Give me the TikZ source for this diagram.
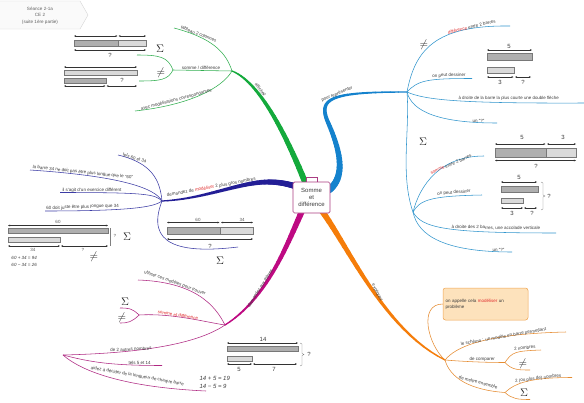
\documentclass[tikz,border=0pt]{standalone}
\usepackage{fontspec}
\setmainfont{Liberation Sans}
\usetikzlibrary{calc,arrows.meta}
\definecolor{cgreen}{RGB}{20,170,60}
\definecolor{cgreenl}{RGB}{50,175,80}
\definecolor{cblue}{RGB}{20,130,205}
\definecolor{cbluel}{RGB}{50,150,205}
\definecolor{cnavy}{RGB}{35,30,150}
\definecolor{cnavyl}{RGB}{60,60,165}
\definecolor{cmag}{RGB}{190,10,130}
\definecolor{cmagl}{RGB}{175,40,130}
\definecolor{corange}{RGB}{245,125,10}
\definecolor{corangel}{RGB}{230,140,50}
\definecolor{txt}{RGB}{60,60,60}
\definecolor{cred}{RGB}{225,45,45}
\definecolor{bdk}{RGB}{175,175,175}
\definecolor{blt}{RGB}{218,218,218}
\definecolor{bbd}{RGB}{120,120,120}
\definecolor{boxfill}{RGB}{253,226,188}
\definecolor{boxdraw}{RGB}{240,165,80}
\definecolor{hdrfill}{RGB}{250,250,250}
\definecolor{hdrdraw}{RGB}{215,215,215}
\definecolor{cbox}{RGB}{170,60,130}
\tikzset{
  lbl/.style={font=\fontsize{4.5}{5.2}\selectfont, text=txt, inner sep=0.3pt},
  subl/.style={line width=0.55pt},
  bdark/.style={draw=bbd, fill=bdk, line width=0.35pt},
  blite/.style={draw=bbd, fill=blt, line width=0.35pt},
  dimarrow/.style={<->, >={Stealth[length=2.2pt,width=1.8pt]}, line width=0.35pt, draw=black!80},
  num/.style={font=\fontsize{6}{6}\selectfont, text=txt, inner sep=0.5pt},
  snum/.style={font=\fontsize{4.5}{5}\selectfont, text=txt!85, inner sep=0.5pt},
  sym/.style={font=\fontsize{11}{11}\selectfont, text=black!85, inner sep=0pt},
  eqn/.style={font=\fontsize{4.5}{5}\selectfont\itshape, text=txt, inner sep=0.3pt, anchor=west},
  brace/.style={draw=black!50, line width=0.3pt},
}
\newcommand\mmtaper[7]{%
  \foreach \k in {0,...,23}{%
    \pgfmathsetmacro\tA{\k/24}%
    \pgfmathsetmacro\tB{(\k+1)/24}%
    \pgfmathsetmacro\bw{#5+(#6-#5)*(\k+0.5)/24}%
    \coordinate (qa1) at ($(#1)!\tA!(#2)$);
    \coordinate (qa2) at ($(#2)!\tA!(#3)$);
    \coordinate (qa3) at ($(#3)!\tA!(#4)$);
    \coordinate (ra1) at ($(qa1)!\tA!(qa2)$);
    \coordinate (ra2) at ($(qa2)!\tA!(qa3)$);
    \coordinate (pa) at ($(ra1)!\tA!(ra2)$);
    \coordinate (qb1) at ($(#1)!\tB!(#2)$);
    \coordinate (qb2) at ($(#2)!\tB!(#3)$);
    \coordinate (qb3) at ($(#3)!\tB!(#4)$);
    \coordinate (rb1) at ($(qb1)!\tB!(qb2)$);
    \coordinate (rb2) at ($(qb2)!\tB!(qb3)$);
    \coordinate (pb) at ($(rb1)!\tB!(rb2)$);
    \draw[draw=#7, line width=\bw pt, line cap=round] (pa) -- (pb);
  }}
\begin{document}
\begin{tikzpicture}[x=1pt,y=-1pt]
\useasboundingbox (0,0) rectangle (584,402);
\fill[white] (0,0) rectangle (584,402);

% header
\draw[draw=hdrdraw, fill=hdrfill, line width=0.4pt] (-1,1) -- (80,1) -- (88,15) -- (80,29) -- (-1,29) -- cycle;
\node[font=\fontsize{4.6}{6.5}\selectfont, text=txt!80, align=center, inner sep=0] (hdr) at (40,15.5) {Séance 2-1a\\CE 2\\(suite 1ère partie)};

% ================= GREEN
\coordinate (g0) at (305,182); \coordinate (gc1) at (280,120); \coordinate (gc2) at (255,80); \coordinate (gj) at (232,71);
\mmtaper{g0}{gc1}{gc2}{gj}{6}{1.2}{cgreen}
\node[lbl, rotate=-52, anchor=south] (gl) at (259,91) {affichez};
\draw[cgreenl, subl] (gj) .. controls (226,52) and (212,38) .. (174,28);
\node[lbl, rotate=-22, anchor=south] (g1) at (198,36) {tableau 2 colonnes};
\coordinate (gf) at (173,70);
\draw[cgreenl, subl] (gj) -- (gf);
\node[lbl, anchor=south] (g2) at (201,70.3) {somme / différence};
\draw[cgreenl, subl] (gf) .. controls (168,57) and (160,55) .. (137,55);
\draw[cgreenl, subl] (gf) .. controls (168,80) and (160,81) .. (139,81);
\node[sym] (gs) at (160,49) {$\Sigma$};
\node[sym] (gn) at (161,73) {$\neq$};
\draw[cgreenl, subl] (gj) .. controls (222,88) and (190,105) .. (135,111);
\node[lbl, rotate=15, anchor=south] (g3) at (177,102.5) {avec modélisations correspondantes};
% green bars
\draw[bdark] (74,40) rectangle (118,46); \draw[blite] (118,40) rectangle (146,46);
\draw[dimarrow] (74,36) -- (117.5,36); \draw[dimarrow] (118.5,36) -- (146,36);
\draw[dimarrow] (74,50) -- (146,50);
\node[num] (gq1) at (110,55) {?};
\draw[dimarrow] (64,67) -- (137,67);
\draw[blite] (64,70) rectangle (137,75);
\draw[bdark] (64,78) rectangle (106,83);
\draw[dimarrow] (64,86) -- (105.5,86); \draw[dimarrow] (106.5,86) -- (137,86);
\node[num] (gq2) at (122,80) {?};

% ================= BLUE
\coordinate (b0) at (329,190); \coordinate (bc1) at (348,175); \coordinate (bc2) at (338,145); \coordinate (bm) at (327,120);
\coordinate (bc3) at (318,97); \coordinate (bc4) at (335,92); \coordinate (bj) at (407,92);
\mmtaper{b0}{bc1}{bc2}{bm}{7}{4}{cblue}
\mmtaper{bm}{bc3}{bc4}{bj}{4}{1.2}{cblue}
\node[lbl, rotate=22, anchor=south] (bl) at (338,96.5) {pour représenter};
\draw[cbluel, subl] (bj) .. controls (415,50) and (435,25) .. (510,26);
\node[lbl, rotate=14, anchor=south west] (b1) at (448,35) {\textcolor{cred}{différence} entre 2 barres};
\node[sym] (bne) at (424,45) {$\neq$};
\draw[cbluel, subl] (bj) .. controls (418,80) and (428,78.5) .. (472,78.5);
\node[lbl, rotate=2, anchor=south west] (b2) at (432,78.7) {on peut dessiner};
\draw[cbluel, subl] (bj) .. controls (425,100) and (460,103.5) .. (584,103);
\node[lbl, font=\fontsize{4.4}{5}\selectfont, anchor=south west] (b3) at (458,101.3) {à droite de la barre la plus courte une double flèche};
\draw[cbluel, subl] (bj) .. controls (412,112) and (440,123) .. (497,123);
\node[lbl, anchor=south west] (b4) at (472,123) {un “?”};
% blue bars 1
\node[num] (b5n) at (509,46) {5};
\draw[dimarrow] (487,50) -- (532,50);
\draw[bdark] (487,53) rectangle (532,60);
\draw[blite] (487,67) rectangle (514,73);
\draw[dimarrow] (487,77) -- (513.5,77); \draw[dimarrow] (515,77) -- (531,77);
\node[num] (b3n) at (500,82.5) {3}; \node[num] (bqn) at (523,82.5) {?};
% second group
\coordinate (bj2) at (413,212);
\draw[cbluel, subl] (bj) .. controls (410,130) and (400,175) .. (bj2);
\node[sym] (bsig) at (423,142) {$\Sigma$};
\draw[cbluel, subl] (bj2) .. controls (420,185) and (440,156) .. (484,156);
\node[lbl, rotate=23, anchor=south west] (b6) at (431,175) {\textcolor{cred}{somme} entre 2 barres};
\draw[cbluel, subl] (bj2) .. controls (420,200) and (430,196) .. (482,195);
\node[lbl, rotate=4, anchor=south west] (b7) at (437,196.5) {on peut dessiner};
\draw[cbluel, subl] (bj2) .. controls (422,228) and (445,233) .. (556,233);
\node[lbl, rotate=-1, anchor=south west] (b8) at (451,229.5) {à droite des 2 barres, une accolade verticale};
\draw[cbluel, subl] (bj2) .. controls (418,236) and (445,252) .. (512,252);
\node[lbl, anchor=south west] (b9) at (492,252) {un “?”};
% blue bars 2
\node[num] (c5) at (522,137) {5}; \node[num] (c3) at (563,137) {3};
\draw[dimarrow] (495,144) -- (545.5,144); \draw[dimarrow] (547,144) -- (576,144);
\draw[bdark] (495,148) rectangle (546,157); \draw[blite] (546,148) rectangle (576,157);
\draw[dimarrow] (495,160.5) -- (576,160.5);
\node[num] (cq) at (536,166) {?};
% blue bars 3
\node[num] (d5) at (519,177) {5};
\draw[dimarrow] (501,182) -- (537,182);
\draw[bdark] (501,186) rectangle (538,192);
\draw[blite] (501,198) rectangle (523,203);
\draw[dimarrow] (501,208) -- (523,208); \draw[dimarrow] (524,208) -- (537,208);
\node[num] (d3) at (512,213) {3}; \node[num] (dq) at (532,213) {?};
\draw[brace] (541,182) -- (543,183) -- (543,195) -- (545,196) -- (543,197) -- (543,209) -- (541,210);
\node[num] (dq2) at (549,196) {?};

% ================= NAVY
\coordinate (n0) at (298,187); \coordinate (nc1) at (288,184); \coordinate (nc2) at (280,182); \coordinate (nm) at (268,182);
\coordinate (nc3) at (240,182); \coordinate (nc4) at (205,199); \coordinate (nj) at (162,201);
\mmtaper{n0}{nc1}{nc2}{nm}{6}{5}{cnavy}
\mmtaper{nm}{nc3}{nc4}{nj}{5}{1.2}{cnavy}
\node[lbl, rotate=10.5, anchor=south west] (nl) at (167,198.3) {demandez de \textcolor{cred}{modéliser} 2 plus gros nombres};
\draw[cnavyl, subl] (nj) .. controls (160,180) and (152,163) .. (118,155);
\node[lbl, rotate=-18, anchor=south] (n1) at (134,160) {tels 60 et 34};
\draw[cnavyl, subl] (nj) .. controls (155,188) and (120,176) .. (30,170);
\node[lbl, rotate=-6, anchor=south west] (n2) at (32,169.8) {la barre 34 ne doit pas être plus longue que le “60”};
\draw[cnavyl, subl] (nj) .. controls (155,194) and (145,192.5) .. (60,192.5);
\node[lbl, anchor=south west] (n3) at (62,192.5) {il s'agit d'un exercice différent};
\draw[cnavyl, subl] (nj) .. controls (155,206) and (140,211) .. (45,211);
\node[lbl, rotate=2, anchor=south west] (n4) at (46,211) {60 doit juste être plus longue que 34};
\draw[cnavyl, subl] (nj) .. controls (145,245) and (180,254) .. (238,247);
\node[sym] (nsig) at (220,261) {$\Sigma$};
% navy bars
\node[snum] (e60) at (198,219.5) {60}; \node[snum] (e34) at (242,219.5) {34};
\draw[dimarrow] (167,222.5) -- (219.5,222.5); \draw[dimarrow] (221,222.5) -- (253,222.5);
\draw[bdark] (167,227) rectangle (220,234); \draw[blite] (220,227) rectangle (253,234);
\draw[dimarrow] (167,239) -- (253,239);
\node[num] (eq) at (210,246) {?};
% left bars
\node[snum] (f60) at (58,222) {60};
\draw[dimarrow] (8,225.5) -- (108,225.5);
\draw[bdark] (8,228.5) rectangle (108,233);
\draw[blite] (8,237) rectangle (60,242);
\draw[dimarrow] (8,246) -- (60,246); \draw[dimarrow] (61,246) -- (108,246);
\node[snum] (f34) at (33,249.8) {34}; \node[snum] (fq) at (83,249.8) {?};
\draw[brace] (110,228) -- (110,246);
\node[snum] (fq2) at (115,236) {?};
\node[sym] (lsig) at (127,237) {$\Sigma$};
\node[sym] (lne) at (94,257) {$\neq$};
\node[eqn] (feq1) at (11,258) {60 + 34 = 94};
\node[eqn] (feq2) at (11,265) {60 − 34 = 26};

% ================= MAGENTA
\coordinate (m0) at (302,211); \coordinate (mc1) at (285,250); \coordinate (mc2) at (265,300); \coordinate (mj) at (225,325);
\mmtaper{m0}{mc1}{mc2}{mj}{6}{1.2}{cmag}
\node[lbl, rotate=58, anchor=south] (ml) at (262,289) {demandez aux élèves};
\draw[cmagl, subl] (mj) .. controls (215,305) and (195,282) .. (138,280);
\node[lbl, rotate=-20, anchor=south] (m1) at (174,285.5) {utiliser ces modèles pour trouver};
\coordinate (mf) at (139,315);
\draw[cmagl, subl] (mj) .. controls (205,322) and (172,313) .. (mf);
\node[lbl, text=cred, rotate=-9, anchor=south west] (m2) at (157,314) {somme et différence};
\draw[cmagl, subl] (mf) .. controls (132,308) and (128,308) .. (120,308);
\draw[cmagl, subl] (mf) .. controls (132,322) and (128,323) .. (120,323);
\node[sym] (msig) at (125,302) {$\Sigma$};
\node[sym] (mne) at (122,318) {$\neq$};
\coordinate (mj2) at (63,355);
\draw[cmagl, subl] (mj) .. controls (200,342) and (150,353) .. (mj2);
\node[lbl, rotate=3, anchor=south west] (m3) at (110,352.5) {de 2 autres nombres};
\draw[cmagl, subl] (mj2) .. controls (90,362) and (110,365.5) .. (162,365.5);
\node[lbl, anchor=south west] (m4) at (128,365.5) {tels 5 et 14};
\draw[cmagl, subl] (mj2) .. controls (80,370) and (120,387) .. (206,391);
\node[lbl, rotate=-10, anchor=south west] (m5) at (90,370.5) {aidez à décider de la longueur de chaque barre};
% magenta bars
\node[num] (h14) at (263,339) {14};
\draw[dimarrow] (227,343) -- (298,343);
\draw[bdark] (227,346) rectangle (298,351.5);
\draw[blite] (227,356) rectangle (252,361);
\draw[dimarrow] (227,364) -- (252,364); \draw[dimarrow] (253,364) -- (297,364);
\node[num] (h5) at (239,369.5) {5}; \node[num] (h7) at (274,369.5) {7};
\draw[brace] (300,343) -- (302,344) -- (302,353.5) -- (304,354.5) -- (302,355.5) -- (302,365) -- (300,366);
\node[num] (hq) at (309,354) {?};
\node[eqn, font=\fontsize{6}{6}\selectfont\itshape] (heq1) at (199,378) {14 + 5 = 19};
\node[eqn, font=\fontsize{6}{6}\selectfont\itshape] (heq2) at (199,386) {14 − 5 = 9};

% ================= ORANGE
\coordinate (o0) at (322,211); \coordinate (oc1) at (350,250); \coordinate (oc2) at (385,330); \coordinate (oj) at (445,360);
\mmtaper{o0}{oc1}{oc2}{oj}{6}{1.2}{corange}
\node[lbl, rotate=-62, anchor=south] (ol) at (375,294) {expliquez};
\node[draw=boxdraw, fill=boxfill, rounded corners=2.5pt, line width=0.5pt, minimum width=85pt, minimum height=32pt, text width=80pt, align=left, font=\fontsize{4.5}{6}\selectfont, text=txt, inner sep=2pt] (obox) at (485.5,304) {on appelle cela \textcolor{cred}{modéliser} un\\problème};
\draw[corangel, subl] (oj) .. controls (428,345) and (418,304) .. (obox.west);
\draw[corangel, subl] (oj) .. controls (455,348) and (480,334) .. (566,332);
\node[lbl, rotate=10, anchor=south west] (o1) at (461,347) {le schéma : un modèle en barre permettant};
\coordinate (of1) at (505,362.5);
\draw[corangel, subl] (oj) .. controls (470,362) and (490,362.5) .. (of1);
\node[lbl, anchor=south west] (o2) at (469,361.5) {de comparer};
\draw[corangel, subl] (of1) .. controls (512,352) and (515,351) .. (541,350);
\node[lbl, rotate=6, anchor=south west] (o3) at (514,351) {2 nombres};
\draw[corangel, subl] (of1) .. controls (512,370) and (518,370) .. (530,370);
\node[sym] (one) at (523,364) {$\neq$};
\coordinate (of2) at (505,392.5);
\draw[corangel, subl] (oj) .. controls (450,378) and (470,390) .. (of2);
\node[lbl, rotate=-15, anchor=south west] (o4) at (458,379) {de mettre ensemble};
\draw[corangel, subl] (of2) .. controls (515,383) and (530,377.5) .. (572,377.5);
\node[lbl, rotate=7, anchor=south west] (o5) at (515,384) {2 (ou plus de) nombres};
\draw[corangel, subl] (of2) .. controls (512,399) and (518,399.5) .. (530,399.5);
\node[sym] (osig) at (524,393) {$\Sigma$};

% ================= CENTER
\draw[cbox, line width=0.7pt, fill=white] (306,177.5) rectangle (317,182);
\node[draw=cbox, line width=0.7pt, fill=white, rounded corners=1.5pt, minimum width=37pt, minimum height=31pt, align=center, font=\fontsize{6}{7}\selectfont, text=txt, inner sep=0pt] (ctr) at (311.5,197.5) {Somme\\et\\différence};
\end{tikzpicture}
\end{document}
